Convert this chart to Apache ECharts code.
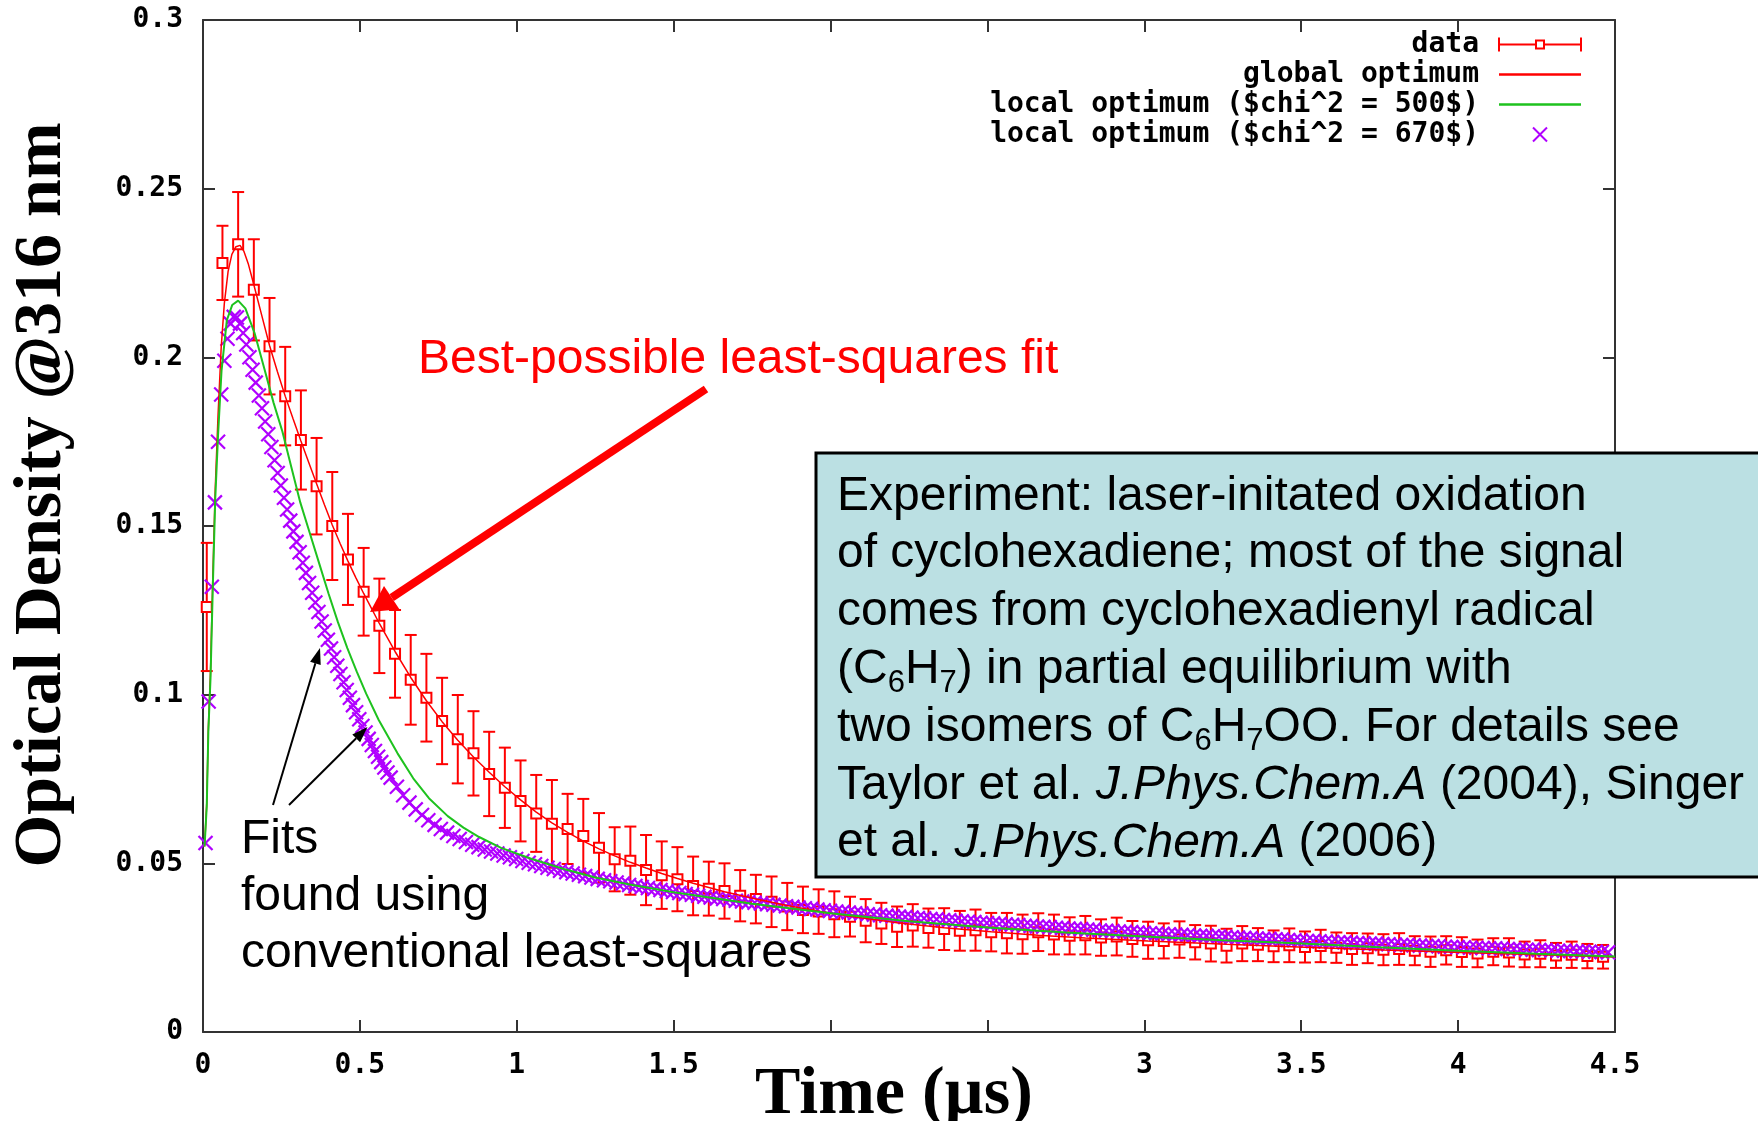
<!DOCTYPE html>
<html><head><meta charset="utf-8">
<script src="https://cdn.jsdelivr.net/npm/echarts@6/dist/echarts.min.js"></script>
<style>html,body{margin:0;padding:0;background:#fff}#c{width:1758px;height:1121px}</style>
</head><body><div id="c"></div>
<script>
const xTickLabels = ['0','0.5','1','1.5','2','2.5','3','3.5','4','4.5'];
const yTickLabels = ['0','0.05','0.1','0.15','0.2','0.25','0.3'];
const seriesNames = ['data','global optimum','local optimum ($chi^2 = 500$)','local optimum ($chi^2 = 670$)'];
const xAxisTitle = 'Time (µs)';
const yAxisTitle = 'Optical Density @316 nm';

// measured data with error bars
const dataT = [0.012,0.062,0.112,0.162,0.212,0.262,0.312,0.362,0.412,0.462,
0.512,0.562,0.612,0.662,0.712,0.762,0.812,0.862,0.912,0.962,
1.012,1.062,1.112,1.162,1.212,1.262,1.312,1.362,1.412,1.462,
1.512,1.562,1.612,1.662,1.712,1.762,1.812,1.862,1.912,1.962,
2.012,2.062,2.112,2.162,2.212,2.262,2.312,2.362,2.412,2.462,
2.512,2.562,2.612,2.662,2.712,2.762,2.812,2.862,2.912,2.962,
3.012,3.062,3.112,3.162,3.212,3.262,3.312,3.362,3.412,3.462,
3.512,3.562,3.612,3.662,3.712,3.762,3.812,3.862,3.912,3.962,
4.012,4.062,4.112,4.162,4.212,4.262,4.312,4.362,4.412,4.462];
const dataV = [0.126,0.228,0.2335,0.2200,0.2033,0.1885,0.1755,0.1618,0.1500,0.1401,
0.1305,0.1204,0.1121,0.1044,0.0991,0.0922,0.0868,0.0826,0.0765,0.0724,
0.0685,0.0648,0.0617,0.0602,0.0581,0.0546,0.0512,0.0508,0.0480,0.0465,
0.0453,0.0433,0.0425,0.0418,0.0404,0.0394,0.0386,0.0372,0.0362,0.0357,
0.0349,0.0342,0.0330,0.0322,0.0312,0.0316,0.0308,0.0305,0.0300,0.0302,
0.0296,0.0293,0.0290,0.0296,0.0289,0.0285,0.0287,0.0280,0.0283,0.0276,
0.0272,0.0270,0.0274,0.0266,0.0262,0.0256,0.0262,0.0259,0.0254,0.0257,
0.0252,0.0255,0.0250,0.0246,0.0248,0.0244,0.0246,0.0241,0.0238,0.0242,
0.0237,0.0233,0.0238,0.0236,0.0230,0.0232,0.0227,0.0229,0.0225,0.0223];
const dataErr = [0.019,0.011,0.0155,0.015,0.0143,0.0146,0.0147,0.0143,0.016,0.0135,
0.013,0.014,0.013,0.0133,0.013,0.0128,0.0131,0.0125,0.0125,0.0119,
0.012,0.0114,0.013,0.0104,0.011,0.0103,0.0095,0.0101,0.0104,0.010,
0.0095,0.0087,0.0080,0.0082,0.0076,0.0072,0.0075,0.0070,0.0069,0.0066,
0.0068,0.0059,0.0064,0.0061,0.0060,0.0063,0.0058,0.0062,0.0059,0.0061,
0.0057,0.0060,0.0058,0.0056,0.0059,0.0055,0.0057,0.0054,0.0056,0.0053,
0.0055,0.0052,0.0054,0.0051,0.0053,0.0050,0.0052,0.0049,0.0047,0.0050,
0.0046,0.0048,0.0045,0.0047,0.0044,0.0046,0.0047,0.0043,0.0045,0.0042,
0.0044,0.0041,0.0040,0.0042,0.0038,0.0040,0.0037,0.0039,0.0036,0.0035];

// global optimum fit (red line)
const globalT = [0.005,0.012,0.017,0.024,0.031,0.039,0.048,0.058,0.068,0.080,
0.092,0.105,0.118,0.130,0.145,0.162,0.187,0.212,0.237,0.262,
0.287,0.312,0.337,0.362,0.387,0.412,0.437,0.462,0.487,0.512,
0.562,0.612,0.662,0.712,0.762,0.812,0.862,0.912,0.962,1.012,
1.062,1.112,1.162,1.212,1.262,1.312,1.362,1.412,1.462,1.512,
1.562,1.662,1.762,1.862,1.962,2.062,2.212,2.362,2.512,2.662,
2.812,3.012,3.262,3.512,3.762,4.012,4.262,4.5];
const globalV = [0.055,0.068,0.090,0.107,0.134,0.161,0.183,0.203,0.216,0.2255,
0.2305,0.2328,0.2332,0.2315,0.2275,0.2215,0.2125,0.2035,0.1958,0.1885,
0.1818,0.1752,0.1688,0.1625,0.1563,0.1503,0.1448,0.1396,0.1347,0.1300,
0.1211,0.1128,0.1051,0.0982,0.0920,0.0865,0.0815,0.0770,0.0727,0.0688,
0.0652,0.0620,0.0592,0.0566,0.0543,0.0522,0.0503,0.0486,0.0470,0.0455,
0.0441,0.0416,0.0394,0.0375,0.0358,0.0343,0.0324,0.0309,0.0297,0.0287,
0.0279,0.0270,0.0260,0.0251,0.0243,0.0236,0.0229,0.0222];

// local optimum chi^2 = 500 (green line)
const chi500T = [0.005,0.012,0.017,0.024,0.031,0.039,0.048,0.059,0.076,0.093,
0.112,0.135,0.165,0.196,0.225,0.253,0.280,0.310,0.340,0.370,
0.400,0.430,0.460,0.490,0.520,0.560,0.620,0.670,0.720,0.780,
0.830,0.880,0.950,1.050,1.150,1.250,1.360,1.500,1.750,2.000,
2.250,2.500,2.750,3.000,3.250,3.500,3.750,4.000,4.250,4.500];
const chi500V = [0.055,0.067,0.089,0.105,0.131,0.158,0.177,0.196,0.211,0.2155,
0.2168,0.2145,0.2070,0.1965,0.1865,0.1780,0.1680,0.1570,0.1480,0.1390,
0.1300,0.1215,0.1138,0.1068,0.1003,0.0925,0.0826,0.0752,0.0693,0.0640,
0.0606,0.0578,0.0546,0.0512,0.0483,0.0458,0.0437,0.0414,0.0380,0.0352,
0.0328,0.0310,0.0295,0.0283,0.0272,0.0262,0.0251,0.0241,0.0232,0.0224];

// local optimum chi^2 = 670 (purple crosses)
const chi670T = [0.008,0.018,0.028,0.038,0.048,0.058,0.068,0.078,0.088,0.098,
0.108,0.118,0.128,0.138,0.148,0.158,0.168,0.178,0.188,0.198,
0.208,0.218,0.228,0.238,0.248,0.258,0.268,0.278,0.288,0.298,
0.308,0.318,0.328,0.338,0.348,0.358,0.368,0.378,0.388,0.398,
0.408,0.418,0.428,0.438,0.448,0.458,0.468,0.478,0.488,0.498,
0.508,0.518,0.528,0.538,0.548,0.558,0.568,0.578,0.588,0.598,
0.618,0.638,0.658,0.678,0.698,0.718,0.738,0.758,0.778,0.798,
0.818,0.838,0.858,0.878,0.898,0.918,0.938,0.958,0.978,0.998,
1.018,1.038,1.058,1.078,1.098,1.118,1.138,1.158,1.178,1.198,
1.218,1.238,1.258,1.278,1.298,1.318,1.338,1.358,1.378,1.398,
1.418,1.438,1.458,1.478,1.498,1.518,1.538,1.558,1.578,1.598,
1.618,1.638,1.658,1.678,1.698,1.718,1.738,1.758,1.778,1.798,
1.818,1.838,1.858,1.878,1.898,1.918,1.938,1.958,1.978,1.998,
2.018,2.038,2.058,2.078,2.098,2.118,2.138,2.158,2.178,2.198,
2.218,2.238,2.258,2.278,2.298,2.318,2.338,2.358,2.378,2.398,
2.418,2.438,2.458,2.478,2.498,2.518,2.538,2.558,2.578,2.598,
2.618,2.638,2.658,2.678,2.698,2.718,2.738,2.758,2.778,2.798,
2.818,2.838,2.858,2.878,2.898,2.918,2.938,2.958,2.978,2.998,
3.018,3.038,3.058,3.078,3.098,3.118,3.138,3.158,3.178,3.198,
3.218,3.238,3.258,3.278,3.298,3.318,3.338,3.358,3.378,3.398,
3.418,3.438,3.458,3.478,3.498,3.518,3.538,3.558,3.578,3.598,
3.618,3.638,3.658,3.678,3.698,3.718,3.738,3.758,3.778,3.798,
3.818,3.838,3.858,3.878,3.898,3.918,3.938,3.958,3.978,3.998,
4.018,4.038,4.058,4.078,4.098,4.118,4.138,4.158,4.178,4.198,
4.218,4.238,4.258,4.278,4.298,4.318,4.338,4.358,4.378,4.398,
4.418,4.438,4.458,4.478];
const chi670V = [0.0560,0.0980,0.1320,0.1570,0.1750,0.1890,0.1990,0.2055,0.2100,0.2120,
0.2118,0.2100,0.2072,0.2038,0.2000,0.1963,0.1925,0.1887,0.1849,0.1810,
0.1772,0.1734,0.1695,0.1657,0.1620,0.1584,0.1549,0.1516,0.1484,0.1453,
0.1422,0.1391,0.1361,0.1331,0.1302,0.1273,0.1245,0.1217,0.1190,0.1163,
0.1137,0.1111,0.1086,0.1061,0.1037,0.1014,0.0991,0.0969,0.0948,0.0927,
0.0907,0.0888,0.0869,0.0851,0.0833,0.0816,0.0800,0.0784,0.0769,0.0754,
0.0727,0.0702,0.0680,0.0660,0.0643,0.0628,0.0614,0.0602,0.0591,0.0581,
0.0572,0.0563,0.0555,0.0548,0.0541,0.0535,0.0529,0.0523,0.0518,0.0513,
0.0507,0.0502,0.0497,0.0492,0.0487,0.0483,0.0478,0.0474,0.0470,0.0466,
0.0462,0.0458,0.0454,0.0450,0.0447,0.0443,0.0440,0.0436,0.0433,0.0430,
0.0427,0.0424,0.0421,0.0418,0.0415,0.0412,0.0409,0.0407,0.0404,0.0401,
0.0399,0.0396,0.0394,0.0392,0.0389,0.0387,0.0385,0.0383,0.0381,0.0379,
0.0377,0.0375,0.0373,0.0371,0.0369,0.0367,0.0365,0.0363,0.0361,0.0359,
0.0357,0.0356,0.0354,0.0352,0.0351,0.0349,0.0348,0.0346,0.0345,0.0343,
0.0342,0.0341,0.0339,0.0338,0.0337,0.0335,0.0334,0.0332,0.0331,0.0330,
0.0328,0.0327,0.0326,0.0324,0.0323,0.0322,0.0320,0.0319,0.0318,0.0317,
0.0315,0.0314,0.0313,0.0312,0.0311,0.0309,0.0308,0.0307,0.0306,0.0305,
0.0304,0.0303,0.0301,0.0300,0.0299,0.0298,0.0297,0.0296,0.0295,0.0294,
0.0293,0.0292,0.0291,0.0290,0.0289,0.0288,0.0287,0.0286,0.0285,0.0285,
0.0284,0.0283,0.0282,0.0281,0.0280,0.0279,0.0278,0.0277,0.0276,0.0276,
0.0275,0.0274,0.0273,0.0272,0.0271,0.0270,0.0270,0.0269,0.0268,0.0267,
0.0266,0.0266,0.0265,0.0264,0.0263,0.0262,0.0262,0.0261,0.0260,0.0259,
0.0258,0.0258,0.0257,0.0256,0.0255,0.0255,0.0254,0.0253,0.0252,0.0252,
0.0251,0.0250,0.0250,0.0249,0.0248,0.0248,0.0247,0.0246,0.0246,0.0245,
0.0244,0.0244,0.0243,0.0243,0.0242,0.0241,0.0241,0.0240,0.0239,0.0239,
0.0238,0.0238,0.0237,0.0236];

const boxLines = [
  'Experiment: laser-initated oxidation',
  'of cyclohexadiene; most of the signal',
  'comes from cyclohexadienyl radical',
  '(C{s|6}H{s|7}) in partial equilibrium with',
  'two isomers of C{s|6}H{s|7}OO. For details see',
  'Taylor et al. {i|J.Phys.Chem.A} (2004), Singer',
  'et al. {i|J.Phys.Chem.A} (2006)'
];
const fitsLines = ['Fits', 'found using', 'conventional least-squares'];

const RED = '#ff0000', GREEN = '#1ec21e', PURPLE = '#b000ff', AX = '#333333';
const tickFont = {fontFamily: 'DejaVu Sans Mono', fontWeight: 'bold', fontSize: 28, color: '#000'};
const zip = (a, b) => a.map((t, i) => [t, b[i]]);

const chart = echarts.init(document.getElementById('c'), null, {renderer: 'canvas'});

function axisCommon(extra) {
  return Object.assign({
    type: 'value',
    axisLine: {show: true, onZero: false, lineStyle: {color: AX, width: 2}},
    axisTick: {show: true, inside: true, length: 12, lineStyle: {color: AX, width: 2}},
    splitLine: {show: false},
    minorTick: {show: false}
  }, extra);
}

chart.setOption({
  animation: false,
  backgroundColor: '#ffffff',
  grid: {left: 203, top: 20, width: 1412, height: 1012, containLabel: false, outerBoundsMode: 'none'},
  xAxis: [
    axisCommon({
      position: 'bottom', min: 0, max: 4.5, interval: 0.5,
      axisLabel: Object.assign({margin: 20, formatter: v => xTickLabels[Math.round(v / 0.5)]}, tickFont)
    }),
    axisCommon({position: 'top', min: 0, max: 4.5, interval: 0.5, axisLabel: {show: false}})
  ],
  yAxis: [
    axisCommon({
      position: 'left', min: 0, max: 0.3, interval: 0.05,
      axisLabel: Object.assign({margin: 20, formatter: v => yTickLabels[Math.round(v / 0.05)]}, tickFont),
      name: yAxisTitle, nameLocation: 'middle', nameGap: 127, nameRotate: 90, nameMoveOverlap: false,
      nameTextStyle: {fontFamily: 'Liberation Serif', fontWeight: 'bold', fontSize: 68, lineHeight: 68,
        color: '#000', padding: [0, 0, 0, 62]}
    }),
    axisCommon({position: 'right', min: 0, max: 0.3, interval: 0.05, axisLabel: {show: false}})
  ],
  legend: {
    orient: 'vertical', right: 176, top: 29.5, padding: 0, itemGap: 0,
    itemWidth: 82, itemHeight: 14, align: 'right', selectedMode: false,
    textStyle: {fontFamily: 'DejaVu Sans Mono', fontWeight: 'bold', fontSize: 28, color: '#000',
      lineHeight: 30, padding: [0, 15, 0, 0]},
    data: [
      {name: seriesNames[0], icon: 'path://M0,0V14M0,7H37M45,7H82M82,0V14M37,3H45V11H37Z',
        itemStyle: {color: '#ffffff', borderColor: RED, borderWidth: 2}},
      {name: seriesNames[1], icon: 'path://M0,0H82V2.4H0Z', itemStyle: {color: RED, borderWidth: 0}},
      {name: seriesNames[2], icon: 'path://M0,0H82V2.4H0Z', itemStyle: {color: GREEN, borderWidth: 0}},
      {name: seriesNames[3]}
    ]
  },
  series: [
    {
      name: seriesNames[0], type: 'custom', xAxisIndex: 0, yAxisIndex: 0,
      itemStyle: {color: RED},
      encode: {x: 0, y: 1},
      data: dataT.map((t, i) => [t, dataV[i], dataErr[i]]),
      renderItem: function (params, api) {
        const t = api.value(0), v = api.value(1), e = api.value(2);
        const hi = api.coord([t, v + e]);
        const lo = api.coord([t, v - e]);
        const mid = api.coord([t, v]);
        const cap = 6, half = 5;
        const st = {stroke: RED, lineWidth: 2, fill: null};
        return {type: 'group', children: [
          {type: 'line', shape: {x1: hi[0], y1: hi[1], x2: lo[0], y2: lo[1]}, style: st},
          {type: 'line', shape: {x1: hi[0] - cap, y1: hi[1], x2: hi[0] + cap, y2: hi[1]}, style: st},
          {type: 'line', shape: {x1: lo[0] - cap, y1: lo[1], x2: lo[0] + cap, y2: lo[1]}, style: st},
          {type: 'rect', shape: {x: mid[0] - half, y: mid[1] - half, width: 2 * half, height: 2 * half},
            style: {stroke: RED, lineWidth: 2, fill: '#ffffff'}}
        ]};
      }
    },
    {
      name: seriesNames[1], type: 'line', data: zip(globalT, globalV),
      symbol: 'none', showSymbol: false, color: RED,
      lineStyle: {color: RED, width: 1.5}
    },
    {
      name: seriesNames[2], type: 'line', data: zip(chi500T, chi500V),
      symbol: 'none', showSymbol: false, color: GREEN,
      lineStyle: {color: GREEN, width: 2}
    },
    {
      name: seriesNames[3], type: 'scatter', data: zip(chi670T, chi670V),
      symbol: 'path://M0,0L10,10M10,0L0,10', symbolSize: 14,
      itemStyle: {color: PURPLE, borderColor: PURPLE, borderWidth: 2.2, opacity: 1}
    }
  ],
  graphic: [
    {type: 'text', z: 102, x: 894, y: 1050,
      style: {text: xAxisTitle, fontFamily: 'Liberation Serif', fontWeight: 'bold', fontSize: 68, lineHeight: 68,
        fill: '#000', align: 'center', verticalAlign: 'top', backgroundColor: '#ffffff', padding: [11, 16, 0, 16]}},
    {type: 'rect', z: 100, shape: {x: 816, y: 453, width: 960, height: 424},
      style: {fill: '#bbe0e3', stroke: '#000', lineWidth: 3}},
    {type: 'text', z: 101, x: 837, y: 467.5,
      style: {text: boxLines.join('\n'), fontFamily: 'Liberation Sans', fontSize: 48, lineHeight: 57.8,
        fill: '#000', verticalAlign: 'top', align: 'left',
        rich: {
          i: {fontFamily: 'Liberation Sans', fontSize: 48, fontStyle: 'italic', lineHeight: 57.8},
          s: {fontFamily: 'Liberation Sans', fontSize: 31, lineHeight: 31, verticalAlign: 'bottom'}
        }}},
    {type: 'text', z: 101, x: 418, y: 360,
      style: {text: 'Best-possible least-squares fit', fontFamily: 'Liberation Sans', fontSize: 48,
        fill: RED, verticalAlign: 'middle', align: 'left'}},
    {type: 'text', z: 101, x: 241, y: 811,
      style: {text: fitsLines.join('\n'), fontFamily: 'Liberation Sans', fontSize: 48, lineHeight: 57.2,
        fill: '#000', verticalAlign: 'top', align: 'left'}},
    {type: 'line', z: 101, shape: {x1: 706, y1: 389, x2: 391.7, y2: 597.6},
      style: {stroke: RED, lineWidth: 8}},
    {type: 'polygon', z: 101, shape: {points: [[370, 612], [399.4, 609.3], [384, 585.9]]},
      style: {fill: RED}},
    {type: 'line', z: 101, shape: {x1: 273, y1: 805, x2: 315.4, y2: 663.3},
      style: {stroke: '#000', lineWidth: 2}},
    {type: 'polygon', z: 101, shape: {points: [[320, 648], [320.7, 664.9], [310.1, 661.7]]},
      style: {fill: '#000'}},
    {type: 'line', z: 101, shape: {x1: 289, y1: 805, x2: 356.2, y2: 738.3},
      style: {stroke: '#000', lineWidth: 2}},
    {type: 'polygon', z: 101, shape: {points: [[367.5, 727], [360.1, 742.2], [352.3, 734.4]]},
      style: {fill: '#000'}}
  ]
});
</script>
</body></html>
